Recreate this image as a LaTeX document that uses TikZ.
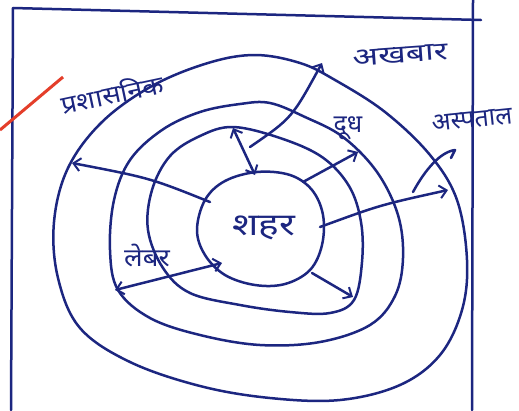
\documentclass[tikz,border=0pt]{standalone}
\usepackage{fontspec}
\newfontfamily\dev[Script=Devanagari]{Noto Sans}
\usetikzlibrary{arrows.meta}
\definecolor{ink}{RGB}{28,38,128}
\definecolor{redmark}{RGB}{228,62,42}
\begin{document}
\begin{tikzpicture}[x=1pt,y=-1pt,
  pen/.style={draw=ink,line width=2.5pt,line cap=round,line join=round},
  ring/.style={pen},
  tip/.tip={Straight Barb[length=7pt,width=13pt,line width=2pt]},
  arr/.style={pen,-tip},
  darr/.style={pen,tip-tip},
  lbl/.style={text=ink,font=\dev\fontsize{25}{28}\selectfont,inner sep=0pt},
  big/.style={font=\dev\fontsize{31}{34}\selectfont}]
\useasboundingbox (0,0) rectangle (519,410);
\fill[white] (0,0) rectangle (519,410);
% frame
\draw[pen] (13,8) -- (481,20);
\draw[pen] (13,8) -- (11,410);
\draw[pen] (473,0) -- (472,410);
\draw[draw=redmark,line width=3pt] (0,130) -- (63,77);
% contours
\draw[ring] plot[smooth cycle,tension=0.6] coordinates {(255,55) (300,63) (335,80) (385,112) (430,155) (457,200) (467,260) (462,310) (440,355) (400,385) (340,400) (270,398) (200,386) (130,362) (80,328) (58,278) (54,222) (68,168) (102,122) (152,86) (208,63)};
\draw[ring] plot[smooth cycle,tension=0.6] coordinates {(240,104) (270,103) (305,117) (343,137) (377,172) (398,215) (403,258) (395,296) (370,325) (320,342) (260,345) (200,335) (150,318) (118,290) (110,250) (114,200) (130,160) (162,130) (200,112)};
\draw[ring] plot[smooth cycle,tension=0.6] coordinates {(233,127) (280,138) (322,157) (349,186) (361,222) (362,262) (354,300) (330,313) (290,312) (240,305) (190,293) (163,268) (148,230) (152,190) (170,156) (200,136)};
\draw[ring] plot[smooth cycle,tension=0.6] coordinates {(257,172) (290,175) (312,190) (323,215) (322,245) (310,270) (285,284) (255,285) (225,275) (205,255) (197,230) (205,200) (225,181)};
% anchors
\coordinate (c1) at (210,202);
\coordinate (o1) at (72,163);
\coordinate (t2) at (233,128);
\coordinate (c2) at (255,175);
\coordinate (s3) at (250,147);
\coordinate (o3) at (322,63);
\coordinate (c4) at (303,182);
\coordinate (r4) at (358,152);
\coordinate (c5) at (320,227);
\coordinate (o5) at (448,190);
\coordinate (h6) at (413,192);
\coordinate (h6e) at (455,150);
\coordinate (c7) at (312,273);
\coordinate (r7) at (353,297);
\coordinate (l8) at (115,290);
\coordinate (c8) at (222,263);
% connectors
\draw[arr] (c1) .. controls (150,178) .. (o1);
\draw[darr] (t2) -- (c2);
\draw[arr] (s3) .. controls (292,118) .. (o3);
\draw[arr] (c4) -- (r4);
\draw[arr] (c5) .. controls (380,205) .. (o5);
\draw[pen] (h6) .. controls (425,170) and (440,152) .. (h6e) -- (451,158);
\draw[arr] (c7) -- (r7);
\draw[darr] (l8) -- (c8);
% labels
\node[lbl,rotate=12,xscale=1.1] (prash) at (112,93) {प्रशासनिक};
\node[lbl,rotate=4,xscale=1.35] (akh) at (400,55) {अखबार};
\node[lbl] (dudh) at (348,128) {दूध};
\node[lbl,rotate=6] (asp) at (472,120) {अस्पताल};
\node[lbl,big,xscale=1.25] (shahar) at (264,228) {शहर};
\node[lbl,xscale=1.1] (labour) at (147,255) {लेबर};
\end{tikzpicture}
\end{document}
